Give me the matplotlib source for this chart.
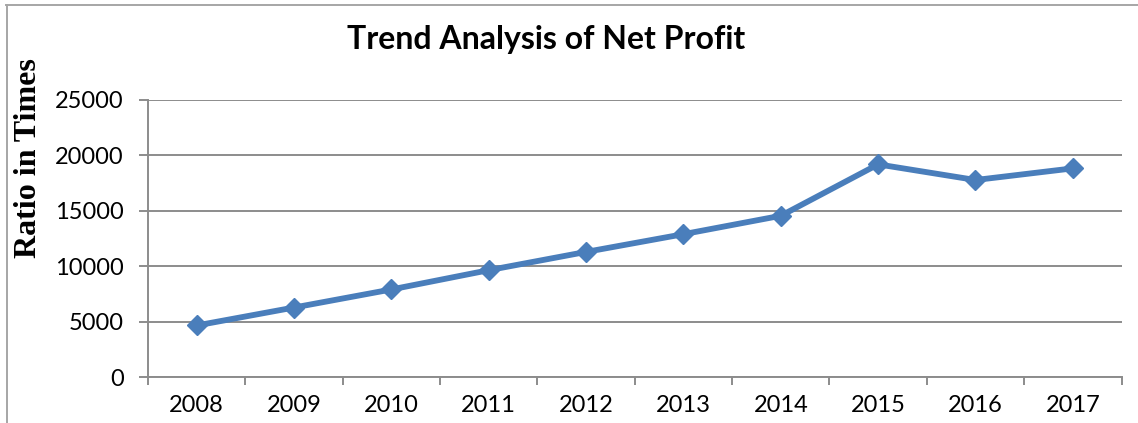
import matplotlib
matplotlib.use("Agg")
import matplotlib.pyplot as plt
from matplotlib.lines import Line2D
from matplotlib.ticker import FixedLocator, NullFormatter

years = ["2008", "2009", "2010", "2011", "2012", "2013", "2014", "2015", "2016", "2017"]
net_profit = [4650, 6270, 7900, 9640, 11290, 12890, 14550, 19190, 17780, 18830]
y_ticks = [0, 5000, 10000, 15000, 20000, 25000]

W, H = 1138, 423
fig = plt.figure(figsize=(W / 100, H / 100), dpi=100)
ax = fig.add_axes([148 / W, 1 - 377 / H, (1121.5 - 148) / W, (377 - 100) / H])

x = list(range(len(years)))
ax.plot(x, net_profit, color="#4A7EBB", linewidth=4.2, marker="D", markersize=10.5,
        markerfacecolor="#4A7EBB", markeredgecolor="#4A7EBB", zorder=3,
        solid_joinstyle="round", solid_capstyle="round")

ax.set_xlim(-0.5, len(years) - 0.5)
ax.set_ylim(0, 25000)
ax.set_yticks(y_ticks)
ax.set_yticklabels([str(v) for v in y_ticks])
ax.yaxis.grid(True, color="#8C8C8C", linewidth=1.4)
ax.set_axisbelow(True)

ax.xaxis.set_major_locator(FixedLocator([i - 0.5 for i in range(len(years) + 1)]))
ax.xaxis.set_major_formatter(NullFormatter())
ax.xaxis.set_minor_locator(FixedLocator(x))
ax.set_xticklabels(years, minor=True)

for s in ["top", "right"]:
    ax.spines[s].set_visible(False)
for s in ["left", "bottom"]:
    ax.spines[s].set_color("#8C8C8C")
    ax.spines[s].set_linewidth(1.4)

ax.tick_params(axis="y", which="major", length=6.5, width=1.4, color="#8C8C8C",
               pad=11, labelsize=17, labelcolor="black")
ax.tick_params(axis="x", which="major", length=5.5, width=1.4, color="#8C8C8C")
ax.tick_params(axis="x", which="minor", length=0, pad=13, labelsize=17, labelcolor="black")
for lbl in ax.get_yticklabels() + ax.get_xticklabels(minor=True):
    lbl.set_fontfamily("Lato")

fig.text(546 / W, 1 - 39 / H, "Trend Analysis of Net Profit", ha="center", va="center",
         fontsize=23, fontweight="bold", family="Lato")
fig.text(29 / W, 1 - 158 / H, "Ratio in Times", ha="center", va="center", rotation=90,
         fontsize=23, fontweight="bold", family="Liberation Serif")

fig.add_artist(Line2D([6 / W, 1.0], [1 - 5.5 / H, 1 - 5.5 / H], transform=fig.transFigure,
                      color="#A6A6A6", linewidth=1.4))
fig.add_artist(Line2D([6.5 / W, 6.5 / W], [0, 1 - 5.5 / H], transform=fig.transFigure,
                      color="#A6A6A6", linewidth=1.4))

fig.savefig("out.png", dpi=100)
